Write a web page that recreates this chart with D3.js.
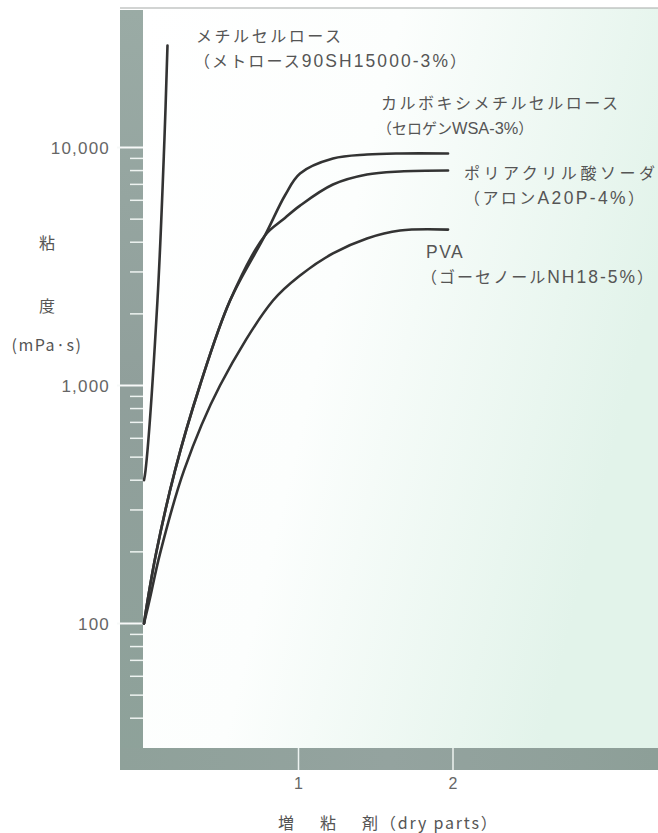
<!DOCTYPE html>
<html>
<head>
<meta charset="utf-8">
<script src="https://cdn.jsdelivr.net/npm/d3@7"></script>
<style>
body { margin: 0; background: #fff; }
text { font-family: "Noto Sans CJK JP", "Liberation Sans", sans-serif; fill: #555; }
.num { font-family: "Liberation Sans", Arial, sans-serif; }
</style>
</head>
<body>
<div id="viz"></div>
<script>
// dimensions of the svg
const width = 658
const height = 833

// y ticks (log scale) and x ticks
const yTicks = [100, 1000, 10000]
const yTickLabels = ["100", "1,000", "10,000"]
const xTicks = [1, 2]
const xTickLabels = ["1", "2"]

// viscosity (mPa·s) against dry parts of thickener
const mcParts  = [0, 0.01, 0.087, 0.132, 0.152]
const mcVisc   = [400, 440, 2270, 10700, 26800]

const cmcParts = [0, 0.026, 0.078, 0.201, 0.362, 0.557, 0.783, 0.913, 1.01, 1.223, 1.443, 1.657, 1.968]
const cmcVisc  = [100, 128, 197, 440, 1000, 2275, 4270, 6300, 7780, 8990, 9340, 9440, 9440]

const paaParts = [0, 0.026, 0.078, 0.201, 0.362, 0.557, 0.783, 0.900, 1.01, 1.223, 1.443, 1.657, 1.968]
const paaVisc  = [100, 128, 197, 440, 1000, 2275, 4270, 4980, 5700, 6990, 7700, 7930, 8000]

const pvaParts = [0, 0.039, 0.104, 0.259, 0.492, 0.835, 1.01, 1.223, 1.443, 1.657, 1.968]
const pvaVisc  = [100, 128, 197, 440, 1000, 2275, 2900, 3590, 4150, 4480, 4520]

// labels of each curve (two lines each)
const mcLabel  = ["メチルセルロース", "（メトロース90SH15000-3%）"]
const cmcLabel = ["カルボキシメチルセルロース", "（セロゲンWSA-3%）"]
const paaLabel = ["ポリアクリル酸ソーダ", "（アロンA20P-4%）"]
const pvaLabel = ["PVA", "（ゴーセノールNH18-5%）"]

const svg = d3.select("#viz")
    .append("svg")
    .attr("width", width)
    .attr("height", height)

const defs = svg.append("defs")

// pale mint wash on the right of the plot
const bg = defs.append("linearGradient").attr("id", "bg")
    .attr("x1", 0).attr("x2", 1).attr("y1", 0).attr("y2", 0.35)
bg.append("stop").attr("offset", "0%").attr("stop-color", "#ffffff")
bg.append("stop").attr("offset", "45%").attr("stop-color", "#fcfefd")
bg.append("stop").attr("offset", "100%").attr("stop-color", "#e2f3ea")

// gray-green band colour
const band = defs.append("linearGradient").attr("id", "band")
    .attr("x1", 0).attr("x2", 0).attr("y1", 0).attr("y2", 1)
band.append("stop").attr("offset", "0%").attr("stop-color", "#9aaba5")
band.append("stop").attr("offset", "50%").attr("stop-color", "#909f9b")
band.append("stop").attr("offset", "100%").attr("stop-color", "#8ea29a")

const bandX = defs.append("linearGradient").attr("id", "bandx")
bandX.append("stop").attr("offset", "0%").attr("stop-color", "#8fa19a")
bandX.append("stop").attr("offset", "50%").attr("stop-color", "#94a39f")
bandX.append("stop").attr("offset", "100%").attr("stop-color", "#8d9f98")

// scales
const x = d3.scaleLinear().domain([0, 2]).range([144, 453])
const y = d3.scaleLog().domain([100, 10000]).range([623.5, 147.5])

// plot background
svg.append("rect")
    .attr("x", 143).attr("y", 8)
    .attr("width", width - 143).attr("height", 740)
    .attr("fill", "url(#bg)")

// top frame line
svg.append("line")
    .attr("x1", 120).attr("x2", width)
    .attr("y1", 8).attr("y2", 8)
    .attr("stroke", "#a5aaa8").attr("stroke-width", 1.2)

// axis bands
svg.append("rect")
    .attr("x", 120).attr("y", 10)
    .attr("width", 23).attr("height", 760)
    .attr("fill", "url(#band)")
svg.append("rect")
    .attr("x", 120).attr("y", 748)
    .attr("width", width - 120).attr("height", 22)
    .attr("fill", "url(#bandx)")

// minor y ticks from the log scale
const minor = y.copy().domain([40, 10000]).ticks()
    .filter(d => yTicks.indexOf(d) < 0)
svg.append("g").selectAll("line")
    .data(minor)
    .enter()
    .append("line")
    .attr("x1", 130).attr("x2", 143)
    .attr("y1", d => y(d)).attr("y2", d => y(d))
    .attr("stroke", "#eef3f1").attr("stroke-width", 1.5)

// major y ticks
svg.append("g").selectAll("line")
    .data(yTicks)
    .enter()
    .append("line")
    .attr("x1", 117).attr("x2", 143)
    .attr("y1", d => y(d)).attr("y2", d => y(d))
    .attr("stroke", "#f7f9f8").attr("stroke-width", 2)

svg.append("g").selectAll("text")
    .data(yTicks)
    .enter()
    .append("text")
    .attr("class", "num")
    .attr("x", 110)
    .attr("y", d => y(d) + 6)
    .attr("text-anchor", "end")
    .attr("font-size", 17)
    .attr("letter-spacing", 1.2)
    .style("fill", "#666")
    .text((d, i) => yTickLabels[i])

// x ticks
svg.append("g").selectAll("line")
    .data(xTicks)
    .enter()
    .append("line")
    .attr("x1", d => x(d)).attr("x2", d => x(d))
    .attr("y1", 748).attr("y2", 770)
    .attr("stroke", "#eef3f1").attr("stroke-width", 1.5)

svg.append("g").selectAll("text")
    .data(xTicks)
    .enter()
    .append("text")
    .attr("class", "num")
    .attr("x", d => x(d))
    .attr("y", 789)
    .attr("text-anchor", "middle")
    .attr("font-size", 16)
    .style("fill", "#666")
    .text((d, i) => xTickLabels[i])

// axis titles
const yTitle = svg.append("g").attr("font-size", 16)
yTitle.append("text").attr("x", 47).attr("y", 249).attr("text-anchor", "middle").text("粘")
yTitle.append("text").attr("x", 47).attr("y", 312).attr("text-anchor", "middle").text("度")
yTitle.append("text").attr("x", 47).attr("y", 351).attr("text-anchor", "middle")
    .attr("letter-spacing", 1.5).text("(mPa·s)")

const xTitle = svg.append("text").attr("y", 829).attr("font-size", 16)
xTitle.append("tspan").attr("x", 278).text("増")
xTitle.append("tspan").attr("x", 320).text("粘")
xTitle.append("tspan").attr("x", 362).text("剤")
xTitle.append("tspan").attr("x", 380).attr("letter-spacing", 1.8).text("（dry parts）")

// curves
const line = d3.line()
    .x(d => x(d[0]))
    .y(d => y(d[1]))
    .curve(d3.curveCatmullRom.alpha(0.5))

const curves = [
    [mcParts, mcVisc],
    [cmcParts, cmcVisc],
    [paaParts, paaVisc],
    [pvaParts, pvaVisc]
]

svg.append("g").selectAll("path")
    .data(curves)
    .enter()
    .append("path")
    .attr("d", c => line(c[0].map((p, i) => [p, c[1][i]])))
    .attr("fill", "none")
    .attr("stroke", "#333")
    .attr("stroke-width", 2.6)
    .attr("stroke-linecap", "round")

// curve labels: latin runs in a latin face, each line fitted to its width
function labelLine(str, x0, y0, len, size) {
    const t = svg.append("text")
        .attr("x", x0).attr("y", y0)
    if (len) {
        t.attr("textLength", len).attr("lengthAdjust", "spacing")
    }
    const s0 = size || 16
    str.split(/([A-Za-z0-9%\-]+)/).forEach(function (s) {
        if (!s) return
        const latin = /^[A-Za-z0-9%\-]+$/.test(s)
        t.append("tspan")
            .attr("class", latin ? "num" : null)
            .attr("font-size", latin ? s0 * 1.09 : s0)
            .text(s)
    })
    return t
}
labelLine(mcLabel[0], 196, 42, 145)
labelLine(mcLabel[1], 194, 67, 272)
labelLine(cmcLabel[0], 381, 109, 237)
labelLine(cmcLabel[1], 377, 134, null, 15)
labelLine(paaLabel[0], 464, 179, 191)
labelLine(paaLabel[1], 464, 204, 180)
labelLine(pvaLabel[0], 426, 258).attr("letter-spacing", 1.5)
labelLine(pvaLabel[1], 421, 283, 232)
</script>
</body>
</html>
